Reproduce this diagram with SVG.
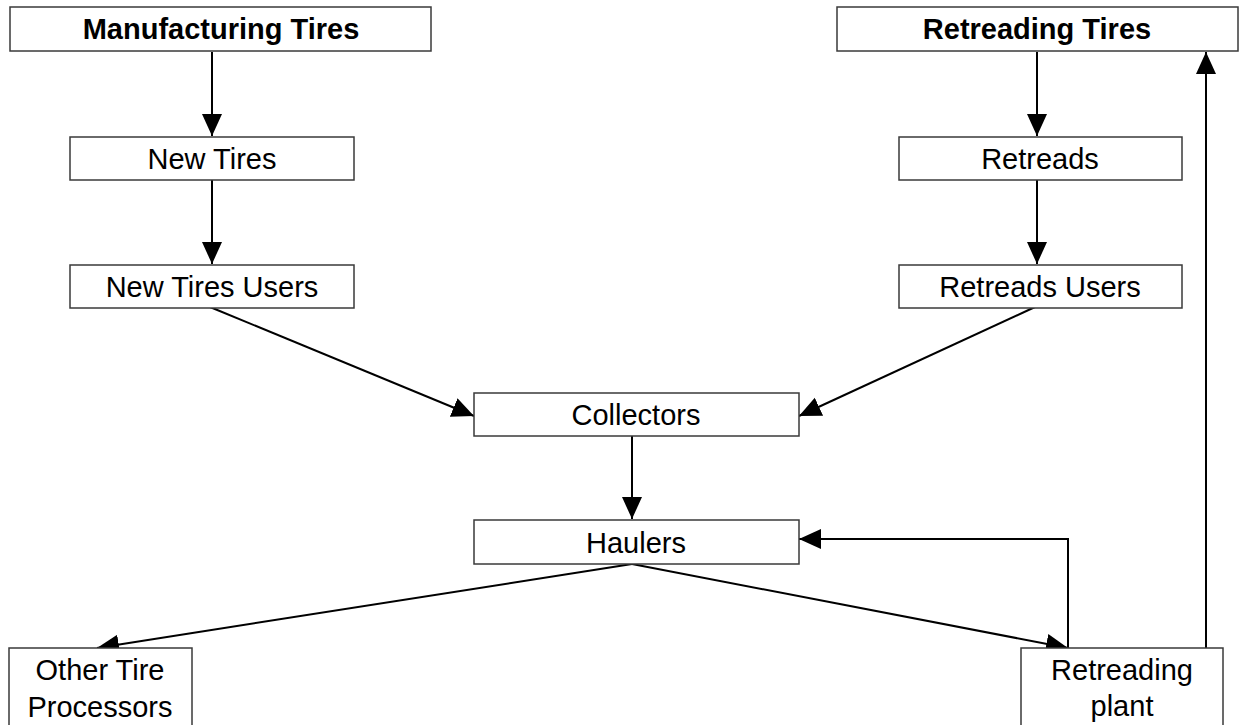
<svg xmlns="http://www.w3.org/2000/svg" width="1239" height="725" viewBox="0 0 1239 725">
<style>
.box{fill:#fff;stroke:#3a3a3a;stroke-width:1.5}
.t{font-family:"Liberation Sans",Arial,sans-serif;font-size:29px;fill:#000;text-anchor:middle}
.b{font-weight:bold}
.c{fill:none;stroke:#000;stroke-width:2}
</style>
<defs>
<marker id="ah" markerUnits="userSpaceOnUse" markerWidth="24" markerHeight="22" refX="22" refY="10" orient="auto">
<path d="M0,0 L22,10 L0,20 z" fill="#000"/>
</marker>
</defs>
<rect width="1239" height="725" fill="#fff"/>
<g id="connectors">
<path class="c" d="M212,52 V136" marker-end="url(#ah)"/>
<path class="c" d="M212,180 V264" marker-end="url(#ah)"/>
<path class="c" d="M1037,52 V136" marker-end="url(#ah)"/>
<path class="c" d="M1037,180 V264" marker-end="url(#ah)"/>
<path class="c" d="M210,307 L474,416" marker-end="url(#ah)"/>
<path class="c" d="M1035,307 L799,416" marker-end="url(#ah)"/>
<path class="c" d="M632,436 V519" marker-end="url(#ah)"/>
<path class="c" d="M632,564 L97,648" marker-end="url(#ah)"/>
<path class="c" d="M632,564 L1068,648" marker-end="url(#ah)"/>
<path class="c" d="M1068,648 V539 H799" marker-end="url(#ah)"/>
<path class="c" d="M1206,648 V52" marker-end="url(#ah)"/>
</g>
<g id="manufacturing-tires"><rect class="box" x="10" y="7" width="421" height="44"/><text class="t b" x="221" y="39">Manufacturing Tires</text></g>
<g id="retreading-tires"><rect class="box" x="837" y="7" width="401" height="44"/><text class="t b" x="1037" y="39">Retreading Tires</text></g>
<g id="new-tires"><rect class="box" x="70" y="137" width="284" height="43"/><text class="t" x="212" y="169">New Tires</text></g>
<g id="new-tires-users"><rect class="box" x="70" y="265" width="284" height="43"/><text class="t" x="212" y="297">New Tires Users</text></g>
<g id="retreads"><rect class="box" x="899" y="137" width="283" height="43"/><text class="t" x="1040" y="169">Retreads</text></g>
<g id="retreads-users"><rect class="box" x="899" y="265" width="283" height="43"/><text class="t" x="1040" y="297">Retreads Users</text></g>
<g id="collectors"><rect class="box" x="474" y="393" width="325" height="43"/><text class="t" x="636" y="425">Collectors</text></g>
<g id="haulers"><rect class="box" x="474" y="520" width="325" height="44"/><text class="t" x="636" y="553">Haulers</text></g>
<g id="other-tire-processors"><rect class="box" x="9" y="648" width="183" height="90"/><text class="t" x="100" y="680">Other Tire</text><text class="t" x="100" y="717">Processors</text></g>
<g id="retreading-plant"><rect class="box" x="1021" y="648" width="202" height="90"/><text class="t" x="1122" y="680">Retreading</text><text class="t" x="1122" y="716">plant</text></g>
</svg>
